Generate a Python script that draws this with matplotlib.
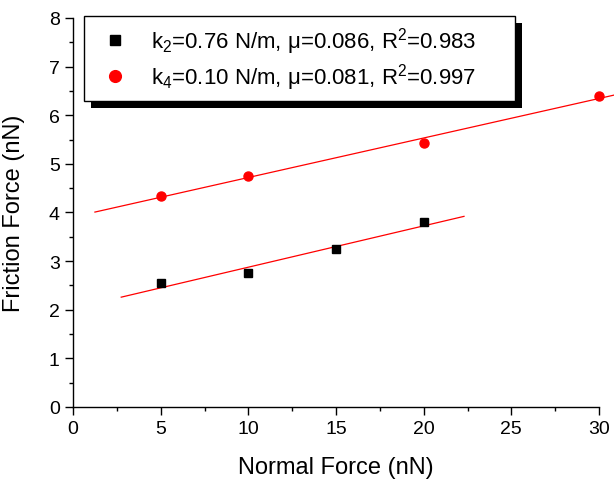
import matplotlib
matplotlib.use("Agg")
import matplotlib.pyplot as plt
import matplotlib.patches as patches
import matplotlib.transforms as mtransforms
from matplotlib.ticker import MultipleLocator
import numpy as np

plt.rcParams['font.family'] = ['Liberation Sans', 'DejaVu Sans']
plt.rcParams['mathtext.fontset'] = 'custom'
plt.rcParams['mathtext.rm'] = 'Liberation Sans'
plt.rcParams['mathtext.it'] = 'Liberation Sans:italic'

# data
k2_x = [5, 10, 15, 20]
k2_y = [2.55, 2.75, 3.25, 3.8]
k4_x = [5, 10, 20, 30]
k4_y = [4.33, 4.75, 5.43, 6.4]

# range of the fitted lines
k2_fit_range = [2.75, 22.3]
k4_fit_range = [1.25, 31.0]

k2_label = "k$_{2}$=0.76 N/m, μ=0.086, R$^{2}$=0.983"
k4_label = "k$_{4}$=0.10 N/m, μ=0.081, R$^{2}$=0.997"

fig = plt.figure(figsize=(6.14, 4.81), dpi=100)
ax = fig.add_axes([0.1189, 0.1518, 0.8567, 0.8087])

# linear fits
for xs, ys, rng in [(k2_x, k2_y, k2_fit_range), (k4_x, k4_y, k4_fit_range)]:
    slope, icpt = np.polyfit(xs, ys, 1)
    fx = np.array(rng)
    ax.plot(fx, slope * fx + icpt, color='red', lw=0.9, clip_on=False, zorder=2)

ax.plot(k2_x, k2_y, 's', color='black', ms=6, ls='none', label=k2_label,
        zorder=3, clip_on=False)
ax.plot(k4_x, k4_y, 'o', color='red', ms=6.5, ls='none', label=k4_label,
        zorder=3, clip_on=False)

ax.set_xlim(0, 30)
ax.set_ylim(0, 8)
ax.xaxis.set_major_locator(MultipleLocator(5))
ax.xaxis.set_minor_locator(MultipleLocator(2.5))
ax.yaxis.set_major_locator(MultipleLocator(1))
ax.yaxis.set_minor_locator(MultipleLocator(0.5))
ax.spines['top'].set_visible(False)
ax.spines['right'].set_visible(False)
for s in ['left', 'bottom']:
    ax.spines[s].set_linewidth(1.0)
ax.tick_params(which='major', direction='out', length=5.5, width=1,
               labelsize=14, pad=4)
ax.tick_params(which='minor', direction='out', length=3, width=1)

ax.set_xlabel("Normal Force (nN)", fontsize=17)
ax.set_ylabel("Friction Force (nN)", fontsize=17)
ax.xaxis.set_label_coords(0.5, -0.127)
ax.yaxis.set_label_coords(-0.092, 0.5)

leg = ax.legend(loc='upper left', bbox_to_anchor=(0.0209, 0.5, 0.8194, 0.5051),
                mode='expand', borderaxespad=0,
                fontsize=16, frameon=True, fancybox=False, framealpha=1,
                edgecolor='black', handletextpad=0.6, borderpad=0.4,
                labelspacing=0.25, handlelength=2.0, markerscale=1.3)
leg.get_frame().set_linewidth(1.0)
leg.set_zorder(5)

# solid black drop shadow behind the legend box
fig.canvas.draw()
bb = leg.get_window_extent()
shadow = patches.Rectangle((bb.x0 + 7, bb.y0 - 7), bb.width, bb.height,
                           transform=mtransforms.IdentityTransform(),
                           facecolor='black', edgecolor='none',
                           zorder=4.5, clip_on=False)
ax.add_patch(shadow)

fig.savefig("out.png", dpi=100)
